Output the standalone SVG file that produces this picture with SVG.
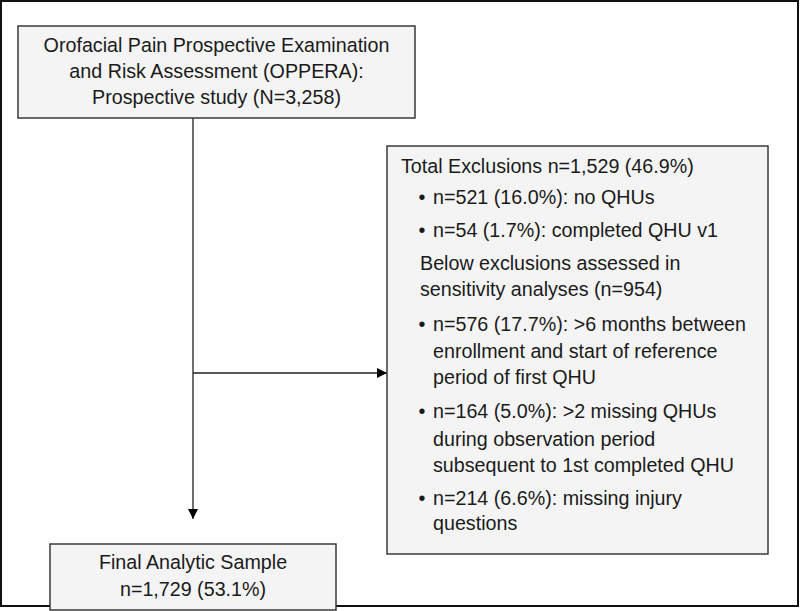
<svg xmlns="http://www.w3.org/2000/svg" width="800" height="611" viewBox="0 0 800 611">
<defs>
<style>
.box{fill:#f4f4f4;stroke:#3a3a3a;stroke-width:1.5}
.t{font-family:"Liberation Sans",Arial,sans-serif;font-size:19.7px;fill:#1a1a1a}
.c{text-anchor:middle}
.ln{stroke:#222;stroke-width:1.3;fill:none}
</style>
<marker id="ah" viewBox="0 0 10 10" refX="10" refY="5" markerWidth="10" markerHeight="10" markerUnits="userSpaceOnUse" orient="auto">
<path d="M0,0 L10,5 L0,10 Z" fill="#000"/>
</marker>
</defs>
<rect x="0" y="0" width="800" height="611" fill="#fff"/>
<rect x="1" y="1" width="797" height="605" fill="none" stroke="#111" stroke-width="2"/>
<g id="connectors">
<line class="ln" x1="193" y1="118" x2="193" y2="519" marker-end="url(#ah)"/>
<line class="ln" x1="193" y1="373" x2="387" y2="373" stroke="#555" marker-end="url(#ah)"/>
</g>
<g id="node-oppera">
<rect class="box" x="18" y="26" width="397" height="92"/>
<text class="t c" x="216.5" y="52">Orofacial Pain Prospective Examination</text>
<text class="t c" x="216.5" y="78">and Risk Assessment (OPPERA):</text>
<text class="t c" x="216.5" y="104">Prospective study (N=3,258)</text>
</g>
<g id="node-exclusions">
<rect class="box" x="387" y="146" width="381" height="408"/>
<text class="t" x="401" y="173">Total Exclusions n=1,529 (46.9%)</text>
<text class="t" x="418.5" y="204">•</text><text class="t" x="433" y="204">n=521 (16.0%): no QHUs</text>
<text class="t" x="418.5" y="237">•</text><text class="t" x="433" y="237">n=54 (1.7%): completed QHU v1</text>
<text class="t" x="420" y="270">Below exclusions assessed in</text>
<text class="t" x="420" y="296">sensitivity analyses (n=954)</text>
<text class="t" x="418.5" y="331">•</text><text class="t" x="433" y="331">n=576 (17.7%): &gt;6 months between</text>
<text class="t" x="433" y="358">enrollment and start of reference</text>
<text class="t" x="433" y="384">period of first QHU</text>
<text class="t" x="418.5" y="418">•</text><text class="t" x="433" y="418">n=164 (5.0%): &gt;2 missing QHUs</text>
<text class="t" x="433" y="446">during observation period</text>
<text class="t" x="433" y="472">subsequent to 1st completed QHU</text>
<text class="t" x="418.5" y="505">•</text><text class="t" x="433" y="505">n=214 (6.6%): missing injury</text>
<text class="t" x="433" y="530">questions</text>
</g>
<g id="node-final">
<rect class="box" x="50" y="544" width="286" height="66"/>
<text class="t c" x="193" y="569">Final Analytic Sample</text>
<text class="t c" x="193" y="596">n=1,729 (53.1%)</text>
</g>
</svg>
